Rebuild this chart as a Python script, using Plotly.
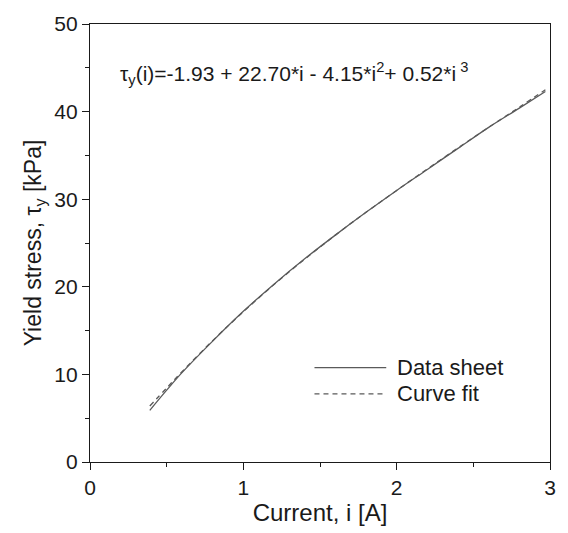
import plotly.graph_objects as go

# Yield stress vs. coil current
current_sheet = [0.39, 0.5, 0.6, 0.8, 1.0, 1.2, 1.4, 1.6, 1.8, 2.0, 2.2, 2.4, 2.6, 2.8, 2.97]
stress_sheet = [5.9, 8.2, 10.2, 13.8, 17.2, 20.3, 23.2, 25.9, 28.5, 31.0, 33.4, 35.8, 38.2, 40.4, 42.3]

current_fit = [0.39, 0.5, 0.6, 0.8, 1.0, 1.2, 1.4, 1.6, 1.8, 2.0, 2.2, 2.4, 2.6, 2.8, 2.97]
stress_fit = [6.4, 8.45, 10.3, 13.85, 17.15, 20.25, 23.15, 25.9, 28.5, 31.0, 33.45, 35.85, 38.2, 40.5, 42.5]

x_ticks = [0, 1, 2, 3]
y_ticks = [0, 10, 20, 30, 40, 50]

legend_names = ["Data sheet", "Curve fit"]
fit_label = "τ<sub>y</sub>(i)=-1.93 + 22.70*i - 4.15*i<sup>2</sup>+ 0.52*i<sup> 3</sup>"

FONT = "Liberation Sans, Arial, sans-serif"
TEXT_COLOR = "#1a1a1a"
LINE_COLOR = "#5a5a5a"

fig = go.Figure()
fig.add_trace(go.Scatter(x=current_sheet, y=stress_sheet, mode="lines",
                         line=dict(color=LINE_COLOR, width=1.3, shape="spline"),
                         name=legend_names[0], showlegend=False))
fig.add_trace(go.Scatter(x=current_fit, y=stress_fit, mode="lines",
                         line=dict(color=LINE_COLOR, width=1.3, dash="5px,4px", shape="spline"),
                         name=legend_names[1], showlegend=False))

# hand-drawn legend inside the plot area
legend_rows = [(0.2156, "solid"), (0.1556, "5px,4px")]
for (yp, dash), name in zip(legend_rows, legend_names):
    fig.add_shape(type="line", xref="paper", yref="paper", x0=0.488, x1=0.644, y0=yp, y1=yp,
                  line=dict(color=LINE_COLOR, width=1.3, dash=dash))
    fig.add_annotation(xref="paper", yref="paper", x=0.664, y=yp, text=name, showarrow=False,
                       xanchor="left", yanchor="middle", font=dict(family=FONT, size=22, color=TEXT_COLOR))

fig.add_annotation(x=0.18, y=44.3, xref="x", yref="y", text=fit_label, showarrow=False,
                   xanchor="left", yanchor="middle", font=dict(family=FONT, size=21, color=TEXT_COLOR))

axis_common = dict(showgrid=False, zeroline=False, showline=True, linecolor=TEXT_COLOR, linewidth=1.3,
                   mirror=True, ticks="outside", ticklen=7, tickwidth=1.3, tickcolor=TEXT_COLOR,
                   tickfont=dict(family=FONT, size=21, color=TEXT_COLOR))

fig.update_xaxes(range=[0, 3], tickvals=x_ticks,
                 minor=dict(dtick=0.5, ticks="outside", ticklen=4, tickwidth=1.2, tickcolor=TEXT_COLOR),
                 title=dict(text="Current, i [A]", font=dict(family=FONT, size=24, color=TEXT_COLOR),
                            standoff=5),
                 **axis_common)
fig.update_yaxes(range=[0, 50], tickvals=y_ticks,
                 minor=dict(dtick=5, ticks="outside", ticklen=4, tickwidth=1.2, tickcolor=TEXT_COLOR),
                 title=dict(text="Yield stress, τ<sub>y</sub> [kPa]",
                            font=dict(family=FONT, size=23, color=TEXT_COLOR), standoff=6),
                 **axis_common)

fig.update_layout(width=568, height=533, margin=dict(l=90, r=17, t=13, b=70),
                  plot_bgcolor="white", paper_bgcolor="white")

fig.write_html("out.html")
